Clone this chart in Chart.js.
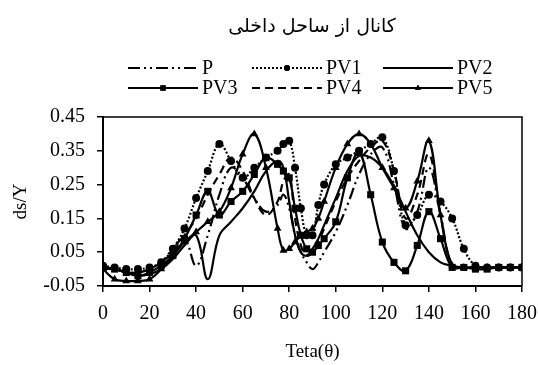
<!DOCTYPE html>
<html>
<head>
<meta charset="utf-8">
<script src="https://cdn.jsdelivr.net/npm/chart.js@4"></script>
<style>
  html, body { margin: 0; padding: 0; background: #fff; }
  canvas { display: block; }
</style>
</head>
<body>
<canvas id="myChart" width="538" height="365"></canvas>
<script>
// Text
const chartTitle = "کانال از ساحل داخلی";
const xTitle = "Teta(θ)";
const yTitle = "ds/Y";

// Angles (degrees)
const teta = [
  0, 5, 10, 15, 20, 25, 30, 35, 40, 45, 50, 55, 60, 65, 70, 75,
  77.5, 80, 82.5, 85, 87.5, 90, 92.5, 95,
  100, 105, 110, 115, 120, 125, 130, 135, 140, 145, 150, 155, 160, 165, 170, 175, 180,
];

// Series values (ds/Y)
const P = [
  0.005, 0, -0.01, -0.01, 0, 0.02, 0.06, 0.09, 0.01, 0.1, 0.22, 0.3, 0.27, 0.21, 0.17, 0.19,
  0.22, 0.18, 0.1, 0.05, 0.02, 0, 0.02, 0.05,
  0.11, 0.19, 0.28, 0.34, 0.36, 0.25, 0.12, 0.17, 0.3, 0.16, 0.01, 0.005, 0.005, 0.005, 0.005, 0.005, 0.005,
];
const PV1 = [
  0.01, 0.005, 0, 0, 0.005, 0.02, 0.06, 0.12, 0.21, 0.29, 0.37, 0.32, 0.27, 0.3, 0.33, 0.35,
  0.37, 0.38, 0.3, 0.18, 0.1, 0.1, 0.19, 0.25,
  0.31, 0.33, 0.35, 0.37, 0.39, 0.29, 0.13, 0.16, 0.22, 0.2, 0.15, 0.06, 0.01, 0.005, 0.005, 0.005, 0.005,
];
const PV2 = [
  0, 0, -0.01, -0.02, -0.015, 0, 0.03, 0.07, 0.1, -0.03, 0.1, 0.14, 0.18, 0.23, 0.29, 0.32,
  0.3, 0.2, 0.1, 0.05, 0.04, 0.06, 0.09, 0.13,
  0.21, 0.29, 0.335, 0.33, 0.3, 0.245, 0.17, 0.1, 0.05, 0.02, 0.01, 0.005, 0.005, 0.005, 0.005, 0.005, 0.005,
];
const PV3 = [
  0.005, 0, -0.01, -0.02, -0.01, 0.01, 0.04, 0.09, 0.16, 0.23, 0.16, 0.2, 0.23, 0.28, 0.33, 0.31,
  0.29, 0.27, 0.18, 0.1, 0.06, 0.05, 0.07, 0.09,
  0.14, 0.27, 0.345, 0.22, 0.08, 0.02, -0.005, 0.07, 0.17, 0.09, 0.005, 0.005, 0, 0, 0.005, 0.005, 0.005,
];
const PV4 = [
  0, 0, -0.01, -0.01, 0, 0.02, 0.05, 0.1, 0.15, 0.22, 0.28, 0.33, 0.29, 0.21, 0.16, 0.2,
  0.26, 0.28, 0.15, 0.07, 0.04, 0.05, 0.08, 0.12,
  0.2, 0.27, 0.32, 0.36, 0.38, 0.29, 0.15, 0.22, 0.34, 0.16, 0.01, 0.005, 0.005, 0.005, 0.005, 0.005, 0.005,
];
const PV5 = [
  0, -0.03, -0.035, -0.035, -0.03, 0, 0.04, 0.08, 0.11, 0.14, 0.17, 0.24, 0.34, 0.4, 0.3, 0.12,
  0.055, 0.06, 0.08, 0.1, 0.11, 0.12, 0.15, 0.2,
  0.3, 0.37, 0.4, 0.37, 0.3, 0.24, 0.18, 0.26, 0.38, 0.16, 0.01, 0.005, 0.005, 0.005, 0.005, 0.005, 0.005,
];

const serif = "'Liberation Serif', 'Times New Roman', serif";

function pts(arr) {
  return teta.map((x, i) => ({ x: x, y: arr[i] }));
}

function series(label, arr, dash, marker, size) {
  return {
    label: label,
    data: pts(arr),
    borderColor: "#000",
    backgroundColor: "#000",
    borderWidth: 2.2,
    borderDash: dash,
    pointStyle: marker || "circle",
    pointRadius: marker ? size : 0,
    pointHoverRadius: 0,
    pointBorderWidth: 0,
    tension: 0.4,
    fill: false,
  };
}

const datasets = [
  series("P", P, [12, 4, 2, 4, 2, 4]),
  series("PV1", PV1, [2, 2], "circle", 4),
  series("PV2", PV2, []),
  series("PV3", PV3, [], "rect", 5),
  series("PV4", PV4, [8, 5]),
  series("PV5", PV5, [], "triangle", 4.5),
];

// legend rows drawn on the canvas (two rows of three)
const legendCols = [128, 252, 383];
const legendRows = [68, 88];

const legendPlugin = {
  id: "customLegend",
  afterDraw(chart) {
    const ctx = chart.ctx;
    const area = chart.chartArea;
    ctx.save();
    // frame top / right
    ctx.strokeStyle = "#000";
    ctx.lineWidth = 1.5;
    ctx.beginPath();
    ctx.moveTo(area.left, area.top);
    ctx.lineTo(area.right, area.top);
    ctx.lineTo(area.right, area.bottom);
    ctx.stroke();

    // title
    ctx.fillStyle = "#000";
    ctx.font = "19px 'DejaVu Sans'";
    ctx.textAlign = "center";
    ctx.textBaseline = "middle";
    ctx.fillText(chartTitle, 312, 27);

    // legend
    ctx.font = "20px " + serif;
    ctx.textAlign = "left";
    chart.data.datasets.forEach((ds, i) => {
      const x0 = legendCols[i % 3];
      const y = legendRows[Math.floor(i / 3)];
      const x1 = x0 + 70;
      ctx.save();
      ctx.strokeStyle = "#000";
      ctx.lineWidth = 2;
      ctx.setLineDash(ds.borderDash);
      ctx.beginPath();
      ctx.moveTo(x0, y);
      ctx.lineTo(x1, y);
      ctx.stroke();
      ctx.restore();
      if (ds.pointRadius > 0) {
        Chart.helpers.drawPoint(ctx, {
          pointStyle: ds.pointStyle,
          radius: ds.pointRadius * 0.75,
          borderWidth: 0,
        }, (x0 + x1) / 2, y);
        ctx.fill();
      }
      ctx.fillStyle = "#000";
      ctx.fillText(ds.label, x1 + 4, y + 1);
    });
    ctx.restore();
  },
};

const config = {
  type: "line",
  data: { datasets: datasets },
  options: {
    responsive: false,
    animation: false,
    devicePixelRatio: 1,
    layout: {
      padding: { top: 117, right: 16, left: 0, bottom: 0 },
    },
    scales: {
      x: {
        type: "linear",
        min: 0,
        max: 180,
        afterFit: (s) => {
          s.height = 79;
          s.paddingLeft = 0;
          s.paddingRight = 0;
        },
        ticks: {
          stepSize: 20,
          color: "#000",
          padding: 10,
          maxRotation: 0,
          font: { family: serif, size: 20 },
        },
        grid: {
          drawOnChartArea: false,
          drawTicks: true,
          tickLength: 6,
          color: "#000",
          lineWidth: 1.5,
        },
        border: { color: "#000", width: 2 },
        title: {
          display: true,
          text: xTitle,
          color: "#000",
          font: { family: serif, size: 19 },
          padding: { top: 6, bottom: 2 },
        },
      },
      y: {
        min: -0.05,
        max: 0.45,
        afterFit: (s) => { s.width = 103; },
        ticks: {
          stepSize: 0.1,
          color: "#000",
          padding: 12,
          font: { family: serif, size: 20 },
          callback: (v) => v.toFixed(2),
        },
        grid: {
          drawOnChartArea: false,
          drawTicks: true,
          tickLength: 6,
          color: "#000",
          lineWidth: 1.5,
        },
        border: { color: "#000", width: 2 },
        title: {
          display: true,
          text: yTitle,
          color: "#000",
          font: { family: serif, size: 19 },
          padding: { top: 10, bottom: 4 },
        },
      },
    },
    plugins: {
      legend: { display: false },
      title: { display: false },
      tooltip: { enabled: false },
    },
  },
  plugins: [legendPlugin],
};

const myChart = new Chart(document.getElementById("myChart"), config);
</script>
</body>
</html>
